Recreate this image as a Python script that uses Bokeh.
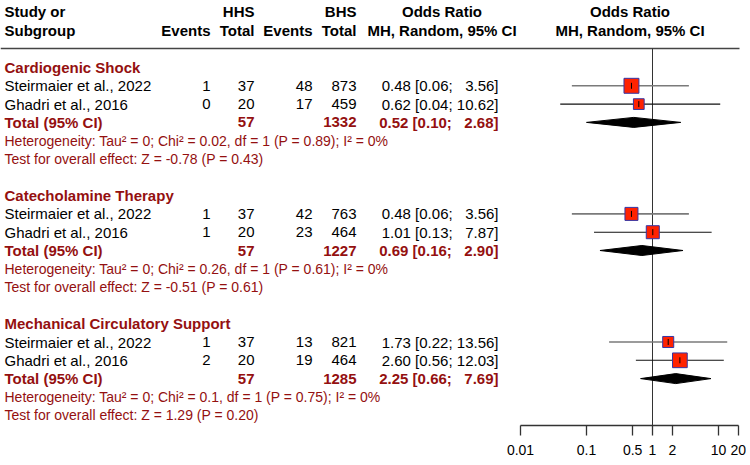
import math
from bokeh.plotting import figure
from bokeh.models import (ColumnDataSource, Range1d, FixedTicker,
                          NumeralTickFormatter, LinearScale)
from bokeh.core.properties import value
from bokeh.embed import file_html
from bokeh.resources import INLINE

# ---------------- data ----------------
subgroups = ["Cardiogenic Shock", "Catecholamine Therapy",
             "Mechanical Circulatory Support"]
studies = ["Steirmaier et al., 2022", "Ghadri et al., 2016"]
hhs_events = [[1, 0], [1, 1], [1, 2]]
hhs_total = [[37, 20], [37, 20], [37, 20]]
bhs_events = [[48, 17], [42, 23], [13, 19]]
bhs_total = [[873, 459], [763, 464], [821, 464]]
or_est = [[0.48, 0.62], [0.48, 1.01], [1.73, 2.60]]
or_lo = [[0.06, 0.04], [0.06, 0.13], [0.22, 0.56]]
or_hi = [[3.56, 10.62], [3.56, 7.87], [13.56, 12.03]]
weights = [[66.0, 34.0], [50.0, 50.0], [36.0, 64.0]]   # % weight (estimated)
pooled_est = [0.52, 0.69, 2.25]
pooled_lo = [0.10, 0.16, 0.66]
pooled_hi = [2.68, 2.90, 7.69]
tau2 = ["0", "0", "0"]
chi2 = ["0.02", "0.26", "0.1"]
df_vals = ["1", "1", "1"]
het_p = ["0.89", "0.61", "0.75"]
i2 = ["0", "0", "0"]
z_vals = ["-0.78", "-0.51", "1.29"]
z_p = ["0.43", "0.61", "0.20"]
tick_values = [0.01, 0.1, 0.5, 1, 2, 10, 20]

# ---------------- layout constants ----------------
W, H = 746, 462
FRAME_H = 425
BOTTOM = H - FRAME_H
PX_DEC = 66.0          # pixels per decade
X001 = 520             # canvas x of OR = 0.01
x_start = 10 ** (-2 - X001 / PX_DEC)
x_end = 10 ** (-2 + (W - X001) / PX_DEC)

DARKRED = "#941010"
FONT = value("Liberation Sans")
FS = "15px"
FS_SMALL = "14px"

H1, H2, HLINE = 11, 30, 48
ROW0, S = 67, 18.3


def ry(i):
    return ROW0 + S * i


COL_STUDY = 4
COL_HE, COL_HT, COL_BE, COL_BT = 210, 254, 312, 356
COL_OR = 498
COL_ORH = 441.5
COL_FH = 629.5

p = figure(width=W, height=H, x_axis_type="log",
           x_range=Range1d(x_start, x_end), y_range=Range1d(FRAME_H, 0),
           output_backend="svg", toolbar_location=None, title=None,
           min_border=0, min_border_bottom=BOTTOM, y_axis_location=None)
p.extra_x_ranges = {"px": Range1d(0, W)}
p.extra_x_scales = {"px": LinearScale()}
p.outline_line_color = None
p.xgrid.visible = False
p.ygrid.visible = False
p.background_fill_color = "white"
p.border_fill_color = "white"

ax = p.xaxis[0]
ax.ticker = FixedTicker(ticks=tick_values)
ax.formatter = NumeralTickFormatter(format="0.[00]")
ax.bounds = (0.01, 20)
ax.axis_line_color = "#333333"
ax.axis_line_width = 1.3
ax.major_tick_line_color = "#333333"
ax.major_tick_line_width = 1.3
ax.major_tick_out = 10
ax.major_tick_in = 0
ax.minor_tick_out = 0
ax.minor_tick_in = 0
ax.major_label_text_font = "Liberation Sans"
ax.major_label_text_font_size = FS_SMALL
ax.major_label_text_color = "black"
ax.major_label_standoff = 9


def add_text(items, align, color, bold=False, size=FS):
    if not items:
        return
    src = ColumnDataSource(dict(x=[t[0] for t in items], y=[t[1] for t in items],
                                text=[t[2] for t in items]))
    p.text(x="x", y="y", text="text", source=src, x_range_name="px",
           text_font=FONT, text_font_size=size, text_align=align,
           text_baseline="middle", text_color=color,
           text_font_style="bold" if bold else "normal")


def fmt_ci(est, lo, hi):
    pad = "\u00a0\u00a0" if hi < 10 else ""
    return f"{est:.2f} [{lo:.2f};\u00a0{pad}{hi:.2f}]"


# headers
add_text([(COL_STUDY, H1, "Study or"), (COL_STUDY, H2, "Subgroup")], "left", "black", True)
add_text([(COL_HT, H1, "HHS"), (COL_BT, H1, "BHS"),
          (COL_HE, H2, "Events"), (COL_HT, H2, "Total"),
          (COL_BE, H2, "Events"), (COL_BT, H2, "Total")], "right", "black", True)
add_text([(COL_ORH, H1, "Odds Ratio"), (COL_ORH, H2, "MH, Random, 95% CI"),
          (COL_FH, H1, "Odds Ratio"), (COL_FH, H2, "MH, Random, 95% CI")],
         "center", "black", True)

# header rule and reference line
p.segment(x0=[0], y0=[HLINE], x1=[739], y1=[HLINE], x_range_name="px",
          line_color="#444444", line_width=1.5)
p.segment(x0=[1], y0=[HLINE], x1=[1], y1=[FRAME_H], line_color="#333333",
          line_width=1)

sub_left, study_left, study_right = [], [], []
tot_left, tot_right, het_left = [], [], []
ci = dict(x0=[], x1=[], y=[], c=[], w=[])
sq = dict(x=[], y=[], s=[])
dia_xs, dia_ys = [], []

for g, name in enumerate(subgroups):
    base = g * 7
    sub_left.append((COL_STUDY, ry(base), name))
    for k, st in enumerate(studies):
        y = ry(base + 1 + k)
        study_left.append((COL_STUDY, y, st))
        study_right += [(COL_HE, y, str(hhs_events[g][k])),
                        (COL_HT, y, str(hhs_total[g][k])),
                        (COL_BE, y, str(bhs_events[g][k])),
                        (COL_BT, y, str(bhs_total[g][k])),
                        (COL_OR, y, fmt_ci(or_est[g][k], or_lo[g][k], or_hi[g][k]))]
        ci["x0"].append(or_lo[g][k]); ci["x1"].append(or_hi[g][k]); ci["y"].append(y)
        ci["c"].append("#7a7a7a" if k == 0 else "#111111")
        ci["w"].append(1.6 if k == 0 else 1.1)
        sq["x"].append(or_est[g][k]); sq["y"].append(y)
        sq["s"].append(1.84 * math.sqrt(weights[g][k]))
    yt = ry(base + 3)
    tot_left.append((COL_STUDY, yt, "Total (95% CI)"))
    tot_right += [(COL_HT, yt, str(sum(hhs_total[g]))),
                  (COL_BT, yt, str(sum(bhs_total[g]))),
                  (COL_OR, yt, fmt_ci(pooled_est[g], pooled_lo[g], pooled_hi[g]))]
    het_left.append((COL_STUDY, ry(base + 4),
                     f"Heterogeneity: Tau\u00b2 = {tau2[g]}; Chi\u00b2 = {chi2[g]}, "
                     f"df = {df_vals[g]} (P = {het_p[g]}); I\u00b2 = {i2[g]}%"))
    het_left.append((COL_STUDY, ry(base + 5),
                     f"Test for overall effect: Z = {z_vals[g]} (P = {z_p[g]})"))
    dia_xs.append([pooled_lo[g], pooled_est[g], pooled_hi[g], pooled_est[g]])
    dia_ys.append([yt, yt - 5, yt, yt + 5])

add_text(sub_left, "left", DARKRED, True)
add_text(study_left, "left", "black")
add_text(study_right, "right", "black")
add_text(tot_left, "left", DARKRED, True)
add_text(tot_right, "right", DARKRED, True)
add_text(het_left, "left", DARKRED, size=FS_SMALL)

p.segment(x0="x0", y0="y", x1="x1", y1="y", line_color="c", line_width="w",
          source=ColumnDataSource(ci))
p.scatter(x="x", y="y", size="s", marker="square", fill_color="#FF2200",
          line_color="#3535A5", line_width=1, source=ColumnDataSource(sq))
p.scatter(x="x", y="y", size=6, marker="dash", angle=math.pi / 2,
          line_color="black", line_width=1, source=ColumnDataSource(sq))
p.patches(xs=dia_xs, ys=dia_ys, fill_color="black", line_color="black")

open("out.html", "w").write(file_html(p, INLINE))
